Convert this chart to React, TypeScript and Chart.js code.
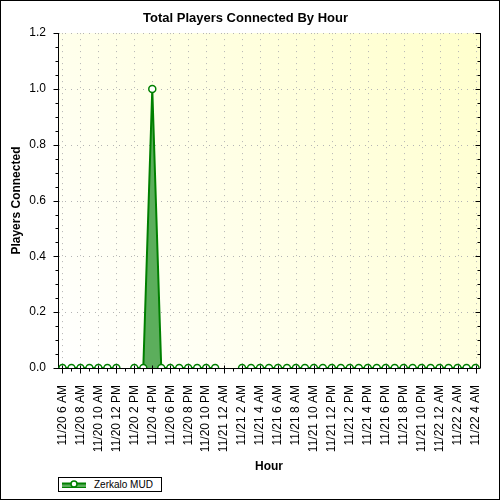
import { useEffect, useRef } from "react";
import { Chart, registerables } from "chart.js";

Chart.register(...registerables);

const SERIES_NAME = "Zerkalo MUD";

// one category per hour, 11/20 6 AM .. 11/22 4 AM
const hours = [
  "11/20 6 AM", "11/20 7 AM", "11/20 8 AM", "11/20 9 AM", "11/20 10 AM", "11/20 11 AM",
  "11/20 12 PM", "11/20 1 PM", "11/20 2 PM", "11/20 3 PM", "11/20 4 PM", "11/20 5 PM",
  "11/20 6 PM", "11/20 7 PM", "11/20 8 PM", "11/20 9 PM", "11/20 10 PM", "11/20 11 PM",
  "11/21 12 AM", "11/21 1 AM", "11/21 2 AM", "11/21 3 AM", "11/21 4 AM", "11/21 5 AM",
  "11/21 6 AM", "11/21 7 AM", "11/21 8 AM", "11/21 9 AM", "11/21 10 AM", "11/21 11 AM",
  "11/21 12 PM", "11/21 1 PM", "11/21 2 PM", "11/21 3 PM", "11/21 4 PM", "11/21 5 PM",
  "11/21 6 PM", "11/21 7 PM", "11/21 8 PM", "11/21 9 PM", "11/21 10 PM", "11/21 11 PM",
  "11/22 12 AM", "11/22 1 AM", "11/22 2 AM", "11/22 3 AM", "11/22 4 AM",
];

// null = no sample for that hour
const players: (number | null)[] = [
  0, 0, 0, 0, 0, 0,
  0, null, 0, 0, 1, 0,
  0, 0, 0, 0, 0, 0,
  null, null, 0, 0, 0, 0,
  0, 0, 0, 0, 0, 0,
  0, 0, 0, 0, 0, 0,
  0, 0, 0, 0, 0, 0,
  0, 0, 0, 0, 0,
];

const GREEN = "#008000";
const FILL = "#5cae5c";
const FONT = "'Liberation Sans', Arial, sans-serif";

// background gradient, dotted grid, tick marks and the right-hand frame line
const decor = {
  id: "decor",
  beforeDraw(chart: any) {
    const { ctx, chartArea: a } = chart;
    const g = ctx.createLinearGradient(a.left, a.bottom, a.right, a.top);
    g.addColorStop(0, "#ffffff");
    g.addColorStop(1, "#ffffcc");
    ctx.save();
    ctx.fillStyle = g;
    ctx.fillRect(a.left, a.top, a.right - a.left, a.bottom - a.top);
    ctx.restore();
  },
  beforeDatasetsDraw(chart: any) {
    const { ctx, chartArea: a, scales } = chart;
    const x = scales.x;
    const y = scales.y;
    ctx.save();
    ctx.strokeStyle = "#b4b4b4";
    ctx.lineWidth = 1;
    ctx.setLineDash([1, 5]);
    ctx.beginPath();
    x.ticks.forEach((_t: any, i: number) => {
      if (i % 2) return;
      const px = Math.round(x.getPixelForTick(i)) + 0.5;
      ctx.moveTo(px, a.top);
      ctx.lineTo(px, a.bottom - 1);
    });
    y.ticks.forEach((t: any) => {
      if (t.value === 0) return;
      const py = Math.round(y.getPixelForValue(t.value)) + 0.5;
      ctx.moveTo(a.left + 1, py);
      ctx.lineTo(a.right, py);
    });
    ctx.stroke();
    ctx.restore();
  },
  afterDatasetsDraw(chart: any) {
    const { ctx, chartArea: a, scales } = chart;
    const x = scales.x;
    const y = scales.y;
    const b = Math.round(a.bottom) + 0.5;
    const l = Math.round(a.left) + 0.5;
    const r = Math.round(a.right) + 0.5;
    ctx.save();
    ctx.strokeStyle = "#000";
    ctx.lineWidth = 1;
    ctx.beginPath();
    x.ticks.forEach((_t: any, i: number) => {
      const px = Math.round(x.getPixelForTick(i)) + 0.5;
      if (i % 2 === 0) {
        ctx.moveTo(px, b - 3);
        ctx.lineTo(px, b + 5);
      } else {
        ctx.moveTo(px, b);
        ctx.lineTo(px, b + 3);
      }
    });
    const vals = y.ticks.map((t: any) => t.value);
    vals.forEach((v: number, i: number) => {
      const py = Math.round(y.getPixelForValue(v)) + 0.5;
      ctx.moveTo(l - 5, py);
      ctx.lineTo(l, py);
      ctx.moveTo(r - 5, py);
      ctx.lineTo(r, py);
      if (i < vals.length - 1) {
        const step = (vals[i + 1] - v) / 4;
        for (let k = 1; k < 4; k++) {
          const my = Math.round(y.getPixelForValue(v + k * step)) + 0.5;
          ctx.moveTo(l - 3, my);
          ctx.lineTo(l, my);
          ctx.moveTo(r - 3, my);
          ctx.lineTo(r, my);
        }
      }
    });
    ctx.moveTo(r, a.top);
    ctx.lineTo(r, a.bottom);
    ctx.stroke();
    ctx.restore();
  },
};

export default function App() {
  const canvasRef = useRef<HTMLCanvasElement>(null);

  useEffect(() => {
    if (!canvasRef.current) return;
    Chart.defaults.font.family = FONT;
    Chart.defaults.color = "#000";

    const chart = new Chart(canvasRef.current, {
      type: "line",
      data: {
        labels: hours,
        datasets: [{
          label: SERIES_NAME,
          data: players,
          borderColor: GREEN,
          borderWidth: 2,
          backgroundColor: FILL,
          fill: "origin",
          tension: 0,
          pointRadius: 3.5,
          pointBorderWidth: 1.5,
          pointBackgroundColor: "#ffffff",
          pointBorderColor: GREEN,
          spanGaps: false,
        }],
      },
      options: {
        animation: false,
        responsive: true,
        maintainAspectRatio: false,
        layout: { padding: { top: 0, left: 0, right: 9, bottom: 25 } },
        plugins: {
          legend: { display: false },
          tooltip: { enabled: false },
          title: {
            display: true,
            text: "Total Players Connected By Hour",
            color: "#000",
            font: { family: FONT, size: 13, weight: "bold" },
            padding: { top: 9.5, bottom: 7 },
          },
        },
        scales: {
          x: {
            type: "category",
            offset: true,
            grid: { display: false },
            border: { color: "#000", width: 1 },
            ticks: {
              autoSkip: false,
              minRotation: 90,
              maxRotation: 90,
              padding: 9,
              color: "#000",
              font: { family: FONT, size: 12 },
              callback(this: any, value: any, index: number) {
                return index % 2 === 0 ? this.getLabelForValue(value) : "";
              },
            },
            title: {
              display: true,
              text: "Hour",
              color: "#000",
              font: { family: FONT, size: 12, weight: "bold" },
              padding: { top: 0, bottom: 0 },
            },
            afterFit(scale: any) {
              scale.height = 106;
            },
          },
          y: {
            min: 0,
            max: 1.2,
            grid: { display: false },
            border: { color: "#000", width: 1 },
            ticks: {
              stepSize: 0.2,
              padding: 4,
              color: "#000",
              font: { family: FONT, size: 12 },
              callback: (v: any) => Number(v).toFixed(1),
            },
            title: {
              display: true,
              text: "Players Connected",
              color: "#000",
              font: { family: FONT, size: 12, weight: "bold" },
              padding: { top: 8, bottom: 0 },
            },
            afterFit(scale: any) {
              scale.width = 57;
            },
          },
        },
      },
      plugins: [decor],
    });

    return () => chart.destroy();
  }, []);

  return (
    <div
      style={{
        position: "relative",
        width: 500,
        height: 500,
        boxSizing: "border-box",
        border: "1px solid #000",
        background: "#fff",
      }}
    >
      <style>{"body{margin:0}"}</style>
      <div style={{ position: "absolute", left: 0, top: 0, width: 498, height: 498 }}>
        <canvas ref={canvasRef} />
      </div>
      <div
        style={{
          position: "absolute",
          left: 57,
          top: 476,
          width: 104,
          height: 15,
          boxSizing: "border-box",
          border: "1px solid #000",
          background: "#fff",
          display: "flex",
          alignItems: "center",
          fontFamily: FONT,
          fontSize: 10,
          color: "#000",
        }}
      >
        <svg width={26} height={11} style={{ marginLeft: 2 }}>
          <rect x={1} y={4} width={24} height={5} fill={FILL} />
          <line x1={1} y1={4.5} x2={25} y2={4.5} stroke={GREEN} strokeWidth={2} />
          <line x1={1} y1={8.5} x2={25} y2={8.5} stroke={GREEN} strokeWidth={1} />
          <circle cx={13} cy={5} r={3} fill="#fff" stroke={GREEN} strokeWidth={1.5} />
        </svg>
        <span style={{ marginLeft: 7 }}>{SERIES_NAME}</span>
      </div>
    </div>
  );
}
